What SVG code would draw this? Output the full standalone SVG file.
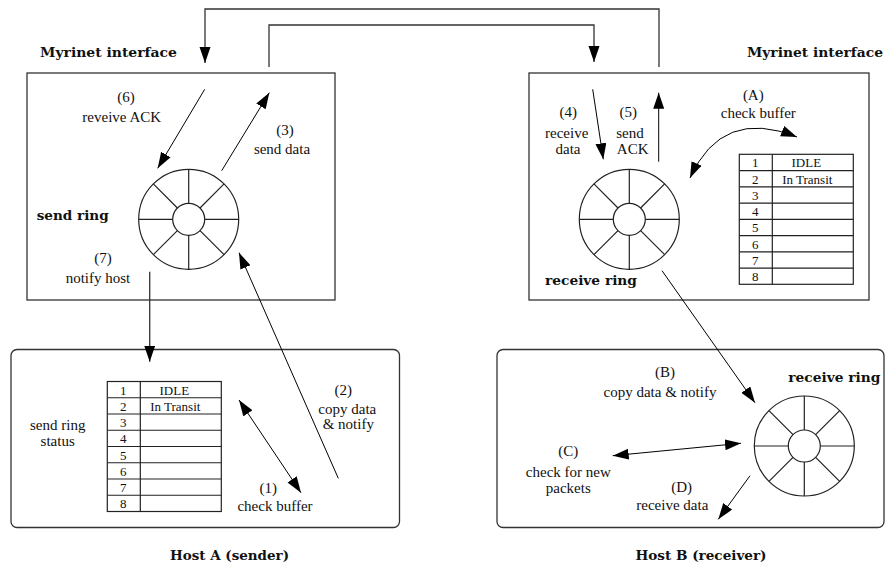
<svg xmlns="http://www.w3.org/2000/svg" width="885" height="565" viewBox="0 0 885 565">
<style>
.frame{fill:none;stroke:#333;stroke-width:1.3}
.conn{fill:none;stroke:#333;stroke-width:1.3}
.arr{fill:none;stroke:#000;stroke-width:1}
.t{font-family:"Liberation Serif","Times New Roman",serif;font-size:15px;fill:#111;text-anchor:middle}
.tt{font-family:"Liberation Serif","Times New Roman",serif;font-size:13px;fill:#111;text-anchor:middle}
.b{font-family:"DejaVu Serif",serif;font-weight:bold;font-size:13.5px;fill:#111}
.ring{fill:#fff;stroke:#222;stroke-width:1.2}
.tbl{fill:#fff;stroke:#222;stroke-width:1.2}
</style>
<defs>
<marker id="ah" markerUnits="userSpaceOnUse" markerWidth="17" markerHeight="12" refX="16" refY="5.5" orient="auto-start-reverse">
<path d="M0,0 L16,5.5 L0,11 z" fill="#000"/>
</marker>
<g id="ringShape">
<circle class="ring" r="50"/>
<circle class="ring" r="16"/>
<path class="ring" d="M16,0 L50,0 M-16,0 L-50,0 M0,16 L0,50 M0,-16 L0,-50 M11.31,11.31 L35.36,35.36 M-11.31,-11.31 L-35.36,-35.36 M11.31,-11.31 L35.36,-35.36 M-11.31,11.31 L-35.36,35.36"/>
</g>
<g id="tableShape">
<rect class="tbl" x="0" y="0" width="114" height="130"/>
<path class="tbl" d="M33,0 L33,130 M0,16.25 H114 M0,32.5 H114 M0,48.75 H114 M0,65 H114 M0,81.25 H114 M0,97.5 H114 M0,113.75 H114"/>
<g class="tt">
<text x="16" y="13">1</text><text x="16" y="29.25">2</text><text x="16" y="45.5">3</text><text x="16" y="61.75">4</text>
<text x="16" y="78">5</text><text x="16" y="94.25">6</text><text x="16" y="110.5">7</text><text x="16" y="126.75">8</text>
<text x="67" y="13">IDLE</text><text x="68" y="29.25">In Transit</text>
</g>
</g>
</defs>

<g id="myrinet-left">
<rect class="frame" x="27" y="73" width="308" height="227"/>
<text class="b" x="40" y="57" textLength="137" lengthAdjust="spacingAndGlyphs">Myrinet interface</text>
</g>
<g id="myrinet-right">
<rect class="frame" x="529" y="73" width="340" height="227"/>
<text class="b" x="747" y="57" textLength="136" lengthAdjust="spacingAndGlyphs">Myrinet interface</text>
</g>
<g id="hostA">
<rect class="frame" x="11" y="349.5" width="388.5" height="178" rx="6"/>
<text class="b" x="170" y="560" textLength="119" lengthAdjust="spacingAndGlyphs">Host A (sender)</text>
</g>
<g id="hostB">
<rect class="frame" x="497" y="349.5" width="387" height="178" rx="6"/>
<text class="b" x="635.5" y="560" textLength="131" lengthAdjust="spacingAndGlyphs">Host B (receiver)</text>
</g>

<g id="send-ring">
<use href="#ringShape" transform="translate(188.7,219.3)"/>
<text class="b" x="36.7" y="220" textLength="72" lengthAdjust="spacingAndGlyphs">send ring</text>
</g>
<g id="receive-ring-nic">
<use href="#ringShape" transform="translate(629.3,219.3)"/>
<text class="b" x="545" y="285" textLength="92" lengthAdjust="spacingAndGlyphs">receive ring</text>
</g>
<g id="receive-ring-host">
<use href="#ringShape" transform="translate(804.3,446)"/>
<text class="b" x="788.3" y="381.7" textLength="92" lengthAdjust="spacingAndGlyphs">receive ring</text>
</g>
<g id="send-ring-status">
<use href="#tableShape" transform="translate(107.3,381.5)"/>
<text class="t" x="57.7" y="430">send ring</text>
<text class="t" x="57.7" y="446">status</text>
</g>
<g id="receive-status">
<use href="#tableShape" transform="translate(739.3,154.3)"/>
</g>

<g id="connectors">
<path class="conn" d="M659,67 V9 H205 V63" marker-end="url(#ah)"/>
<path class="conn" d="M269,67 V25 H594 V62" marker-end="url(#ah)"/>
<path class="arr" d="M204.7,89.3 L157.7,168.3" marker-end="url(#ah)"/>
<path class="arr" d="M221.7,170.7 L269.3,92.7" marker-end="url(#ah)"/>
<path class="conn" d="M149.7,271.7 V361.7" marker-end="url(#ah)"/>
<path class="arr" d="M338.3,478.3 L239,252.7" marker-end="url(#ah)"/>
<path class="arr" d="M239,400 L301,492.7" marker-start="url(#ah)" marker-end="url(#ah)"/>
<path class="arr" d="M592.7,89.3 L603.3,159.3" marker-end="url(#ah)"/>
<path class="arr" d="M658.7,161.7 V92.7" marker-end="url(#ah)"/>
<path class="arr" d="M690,178 Q722,107 797,137" marker-start="url(#ah)" marker-end="url(#ah)"/>
<path class="arr" d="M662,270.7 L755,402.7" marker-end="url(#ah)"/>
<path class="arr" d="M612.7,455.7 L741,443.3" marker-start="url(#ah)" marker-end="url(#ah)"/>
<path class="arr" d="M750,475.7 L718.3,519.3" marker-end="url(#ah)"/>
</g>

<g id="labels">
<text class="t" x="126" y="102">(6)</text>
<text class="t" x="121.7" y="122">reveive ACK</text>
<text class="t" x="285" y="135">(3)</text>
<text class="t" x="282" y="154.3">send data</text>
<text class="t" x="103" y="263">(7)</text>
<text class="t" x="98" y="283">notify host</text>
<text class="t" x="343.3" y="395">(2)</text>
<text class="t" x="347.3" y="414">copy data</text>
<text class="t" x="348.3" y="429.3">&amp; notify</text>
<text class="t" x="268.3" y="492.7">(1)</text>
<text class="t" x="275" y="510.7">check buffer</text>
<text class="t" x="568.3" y="116.7">(4)</text>
<text class="t" x="566.7" y="138.3">receive</text>
<text class="t" x="568" y="154">data</text>
<text class="t" x="628.3" y="116.7">(5)</text>
<text class="t" x="630" y="138.3">send</text>
<text class="t" x="632.7" y="154">ACK</text>
<text class="t" x="753.3" y="100">(A)</text>
<text class="t" x="758.3" y="118.3">check buffer</text>
<text class="t" x="665" y="377.3">(B)</text>
<text class="t" x="660" y="397.3">copy data &amp; notify</text>
<text class="t" x="568.3" y="455.7">(C)</text>
<text class="t" x="568.3" y="477.3">check for new</text>
<text class="t" x="568.3" y="492.7">packets</text>
<text class="t" x="681.7" y="491.7">(D)</text>
<text class="t" x="672.3" y="510">receive data</text>
</g>
</svg>
